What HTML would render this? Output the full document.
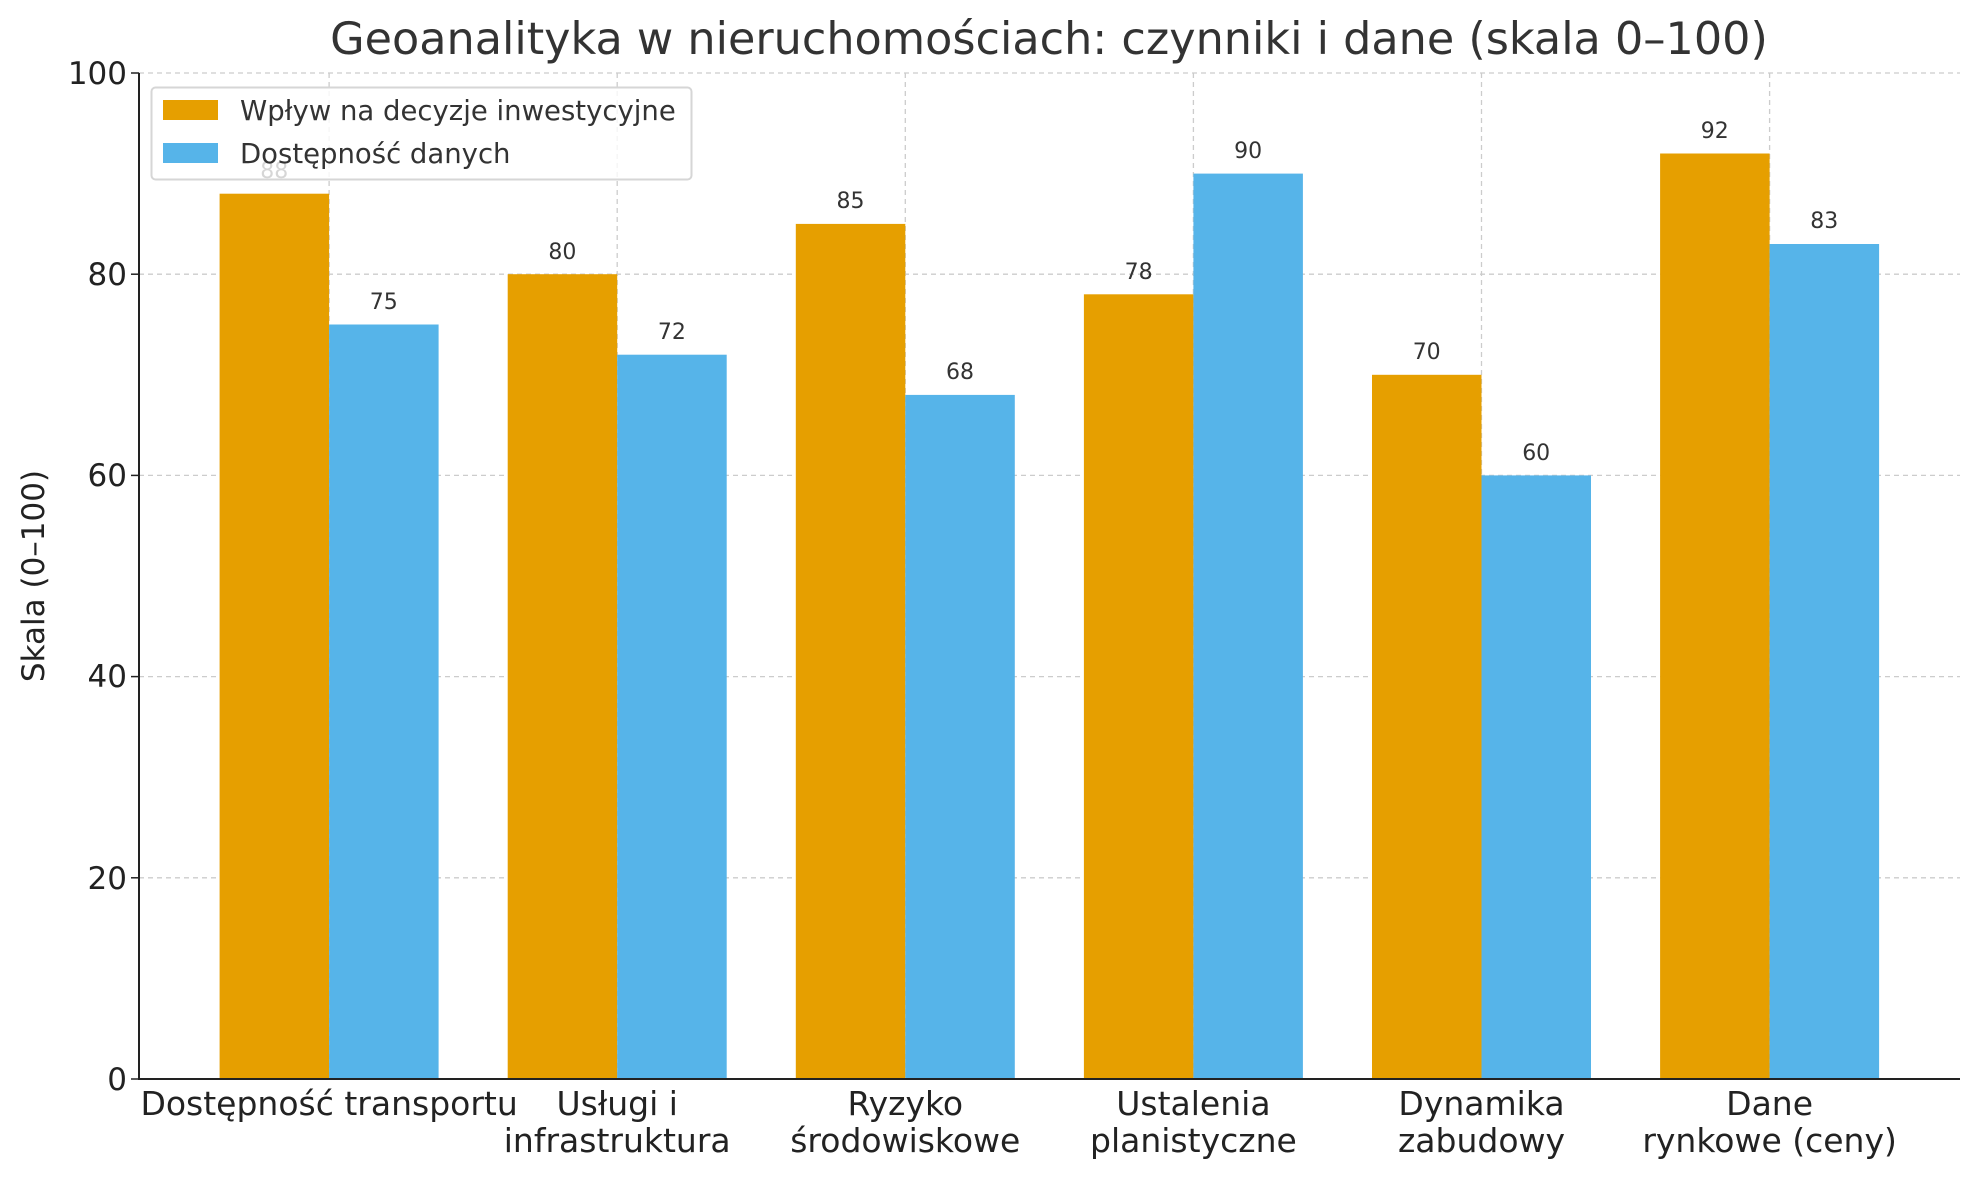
<!DOCTYPE html>
<html><head><meta charset="utf-8"><style>
html,body{margin:0;padding:0;background:#fff;}
svg{display:block;font-family:"DejaVu Sans","Liberation Sans",sans-serif;}
</style></head><body>
<svg width="1979" height="1180" xmlns="http://www.w3.org/2000/svg">
<rect width="1979" height="1180" fill="#fff"/>
<g stroke="#cccccc" stroke-width="1.3" stroke-dasharray="5,4">
<line x1="139" y1="73" x2="1960" y2="73"/>
<line x1="139" y1="274.2" x2="1960" y2="274.2"/>
<line x1="139" y1="475.4" x2="1960" y2="475.4"/>
<line x1="139" y1="676.6" x2="1960" y2="676.6"/>
<line x1="139" y1="877.8" x2="1960" y2="877.8"/>
<line x1="329.1" y1="73" x2="329.1" y2="1079"/>
<line x1="617.2" y1="73" x2="617.2" y2="1079"/>
<line x1="905.3" y1="73" x2="905.3" y2="1079"/>
<line x1="1193.4" y1="73" x2="1193.4" y2="1079"/>
<line x1="1481.5" y1="73" x2="1481.5" y2="1079"/>
<line x1="1769.6" y1="73" x2="1769.6" y2="1079"/>
</g>
<g fill="#E69F00">
<rect x="219.6" y="193.7" width="109.5" height="885.3"/>
<rect x="507.7" y="274.2" width="109.5" height="804.8"/>
<rect x="795.8" y="223.9" width="109.5" height="855.1"/>
<rect x="1083.9" y="294.3" width="109.5" height="784.7"/>
<rect x="1372" y="374.8" width="109.5" height="704.2"/>
<rect x="1660.1" y="153.5" width="109.5" height="925.5"/>
</g>
<g fill="#56B4E9">
<rect x="329.1" y="324.5" width="109.5" height="754.5"/>
<rect x="617.2" y="354.7" width="109.5" height="724.3"/>
<rect x="905.3" y="394.9" width="109.5" height="684.1"/>
<rect x="1193.4" y="173.6" width="109.5" height="905.4"/>
<rect x="1481.5" y="475.4" width="109.5" height="603.6"/>
<rect x="1769.6" y="244" width="109.5" height="835"/>
</g>
<g font-size="22" fill="#333" text-anchor="middle">
<text x="274.3" y="178">88</text>
<text x="562.4" y="259">80</text>
<text x="850.5" y="208">85</text>
<text x="1138.6" y="279">78</text>
<text x="1426.7" y="359">70</text>
<text x="1714.8" y="138">92</text>
<text x="383.8" y="309">75</text>
<text x="671.9" y="339">72</text>
<text x="960" y="379">68</text>
<text x="1248.1" y="158">90</text>
<text x="1536.2" y="460">60</text>
<text x="1824.3" y="228">83</text>
</g>
<line x1="139" y1="73" x2="139" y2="1080" stroke="#222" stroke-width="2"/>
<line x1="138" y1="1079" x2="1960" y2="1079" stroke="#222" stroke-width="2"/>
<g stroke="#222" stroke-width="1.5">
<line x1="131" y1="73" x2="139" y2="73"/><line x1="131" y1="274.2" x2="139" y2="274.2"/>
<line x1="131" y1="475.4" x2="139" y2="475.4"/><line x1="131" y1="676.6" x2="139" y2="676.6"/>
<line x1="131" y1="877.8" x2="139" y2="877.8"/><line x1="131" y1="1079" x2="139" y2="1079"/>
</g>
<g font-size="31" fill="#222" text-anchor="end">
<text x="127" y="84">100</text><text x="127" y="285">80</text><text x="127" y="486">60</text>
<text x="127" y="687">40</text><text x="127" y="889">20</text><text x="127" y="1090">0</text>
</g>
<g font-size="33" fill="#222" text-anchor="middle">
<text x="329.1" y="1115">Dostępność transportu</text>
<text x="617.2" y="1115">Usługi i</text><text x="617.2" y="1152">infrastruktura</text>
<text x="905.3" y="1115">Ryzyko</text><text x="905.3" y="1152">środowiskowe</text>
<text x="1193.4" y="1115">Ustalenia</text><text x="1193.4" y="1152">planistyczne</text>
<text x="1481.5" y="1115">Dynamika</text><text x="1481.5" y="1152">zabudowy</text>
<text x="1769.6" y="1115">Dane</text><text x="1769.6" y="1152">rynkowe (ceny)</text>
</g>
<text transform="translate(44,576) rotate(-90)" font-size="31" fill="#222" text-anchor="middle">Skala (0–100)</text>
<text x="1049" y="54" font-size="44.5" fill="#333" text-anchor="middle">Geoanalityka w nieruchomościach: czynniki i dane (skala 0–100)</text>
<rect x="151.5" y="87.5" width="540" height="92" rx="4" fill="rgba(255,255,255,0.8)" stroke="#d6d6d6" stroke-width="2"/>
<rect x="163" y="100" width="55" height="20" fill="#E69F00"/>
<rect x="163" y="143" width="55" height="20" fill="#56B4E9"/>
<g font-size="27.5" fill="#333">
<text x="240" y="120">Wpływ na decyzje inwestycyjne</text>
<text x="240" y="163">Dostępność danych</text>
</g>
</svg>
</body></html>
